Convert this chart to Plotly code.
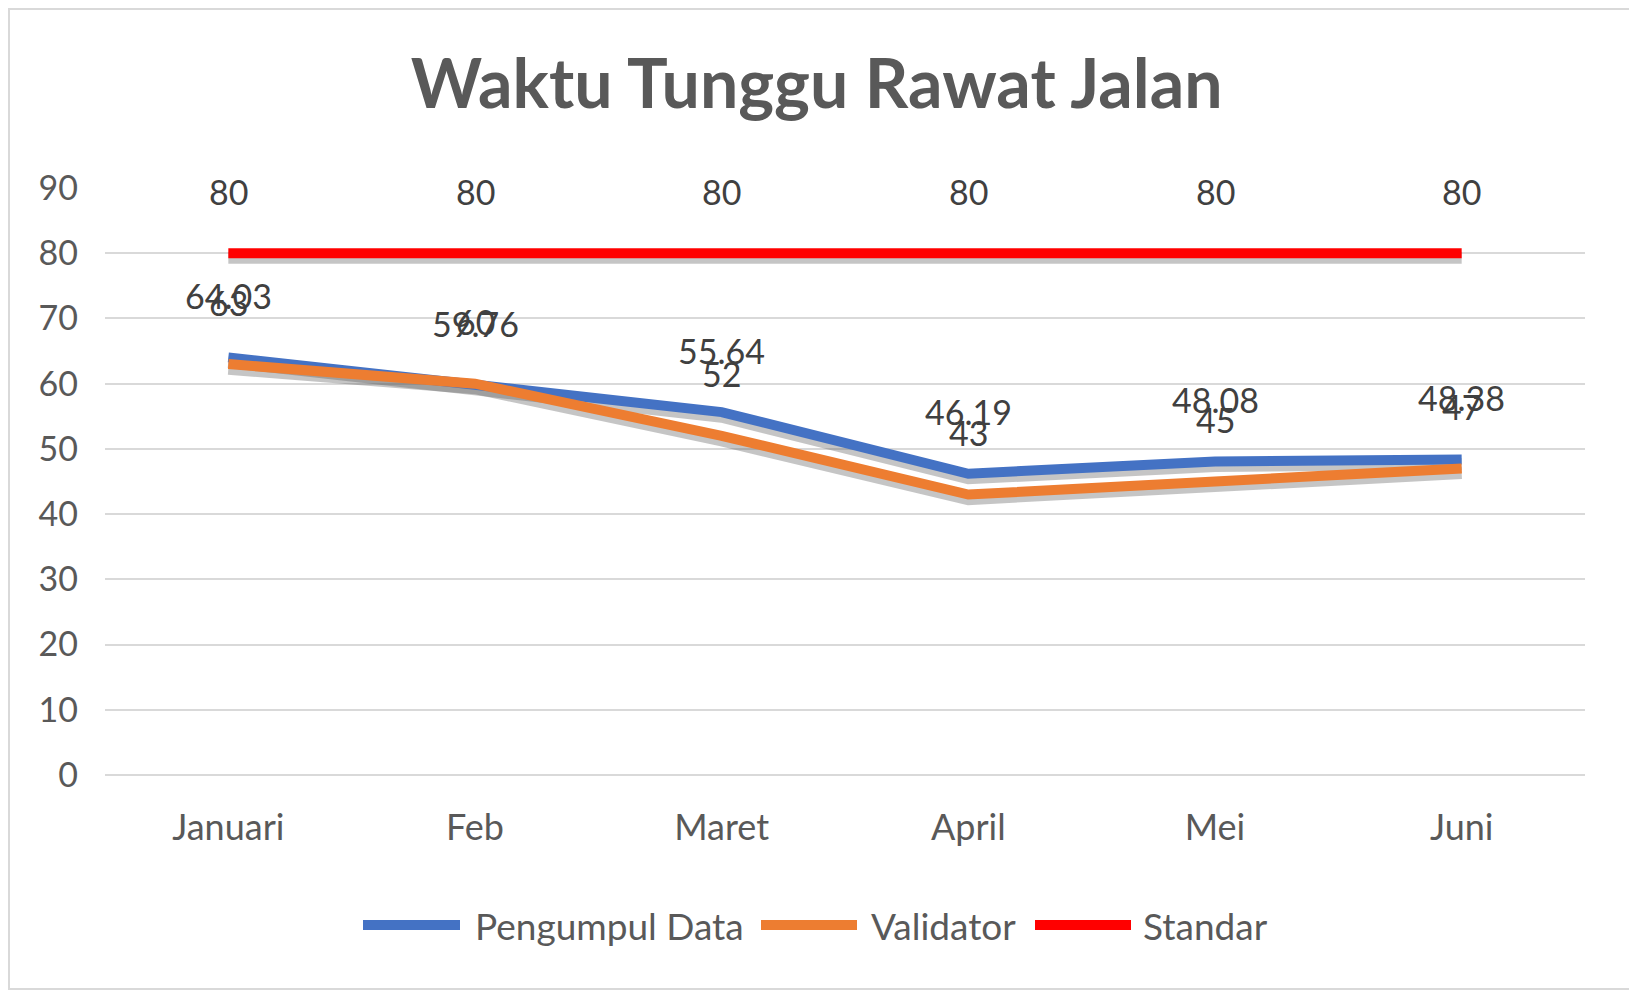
import plotly.graph_objects as go

months = ["Januari", "Feb", "Maret", "April", "Mei", "Juni"]
pengumpul = [64.03, 59.76, 55.64, 46.19, 48.08, 48.38]
validator = [63, 60, 52, 43, 45, 47]
standar = [80, 80, 80, 80, 80, 80]

series = [
    ("Pengumpul Data", pengumpul, "#4472C4"),
    ("Validator", validator, "#ED7D31"),
    ("Standar", standar, "#FF0000"),
]

L, T, W, H = 97, 180, 1480, 587

fig = go.Figure()

# soft shadow under each line
for name, vals, color in series:
    fig.add_trace(go.Scatter(
        x=months, y=[v - 0.7 for v in vals], mode="lines",
        line=dict(color="rgba(90,90,90,0.35)", width=12),
        showlegend=False, hoverinfo="skip"))

for name, vals, color in series:
    fig.add_trace(go.Scatter(
        x=months, y=vals, mode="lines", name=name,
        line=dict(color=color, width=10), showlegend=False))

annotations = []
for name, vals, color in series:
    for m, v in zip(months, vals):
        annotations.append(dict(
            x=m, y=v, text=str(v), showarrow=False, yshift=62,
            font=dict(family="Lato", size=34, color="#404040")))

# legend drawn by hand so the line keys are as long as in the original
shapes = []
leg_y = (T + H - 917) / H
leg_pos = [(355, 452, 465), (753, 849, 861), (1027, 1123, 1133)]
for (name, vals, color), (x0, x1, xt) in zip(series, leg_pos):
    shapes.append(dict(type="line", xref="paper", yref="paper",
                       x0=(x0 - L) / W, x1=(x1 - L) / W, y0=leg_y, y1=leg_y,
                       line=dict(color=color, width=10)))
    annotations.append(dict(xref="paper", yref="paper", x=(xt - L) / W, y=leg_y,
                            xanchor="left", yanchor="middle", text=name,
                            showarrow=False,
                            font=dict(family="Lato", size=37, color="#595959")))

shapes.append(dict(type="rect", xref="paper", yref="paper",
                   x0=(1 - L) / W, x1=(1627 - L) / W,
                   y0=-(981 - T - H) / H, y1=1 + (T - 1) / H,
                   line=dict(color="#D9D9D9", width=2)))

fig.update_layout(
    width=1637, height=992,
    paper_bgcolor="white", plot_bgcolor="white",
    margin=dict(l=L, r=1637 - L - W, t=T, b=992 - T - H),
    title=dict(text="<b>Waktu Tunggu Rawat Jalan</b>", x=0.494, xanchor="center",
               y=1 - 76 / 992, yanchor="middle",
               font=dict(family="Lato", size=68, color="#595959")),
    font=dict(family="Lato", color="#595959"),
    xaxis=dict(range=[-0.5, 5.5], showgrid=False, showline=False, zeroline=False,
               tickfont=dict(size=36, color="#595959"), ticks="",
               ticklabelstandoff=28),
    yaxis=dict(range=[0, 90], dtick=10, showgrid=True, gridcolor="#D9D9D9",
               gridwidth=2, zeroline=True, zerolinecolor="#D9D9D9", zerolinewidth=2,
               tickfont=dict(size=34, color="#595959"), ticks="",
               ticklabelstandoff=26),
    showlegend=False,
    annotations=annotations,
    shapes=shapes,
)

fig.write_html("out.html")
